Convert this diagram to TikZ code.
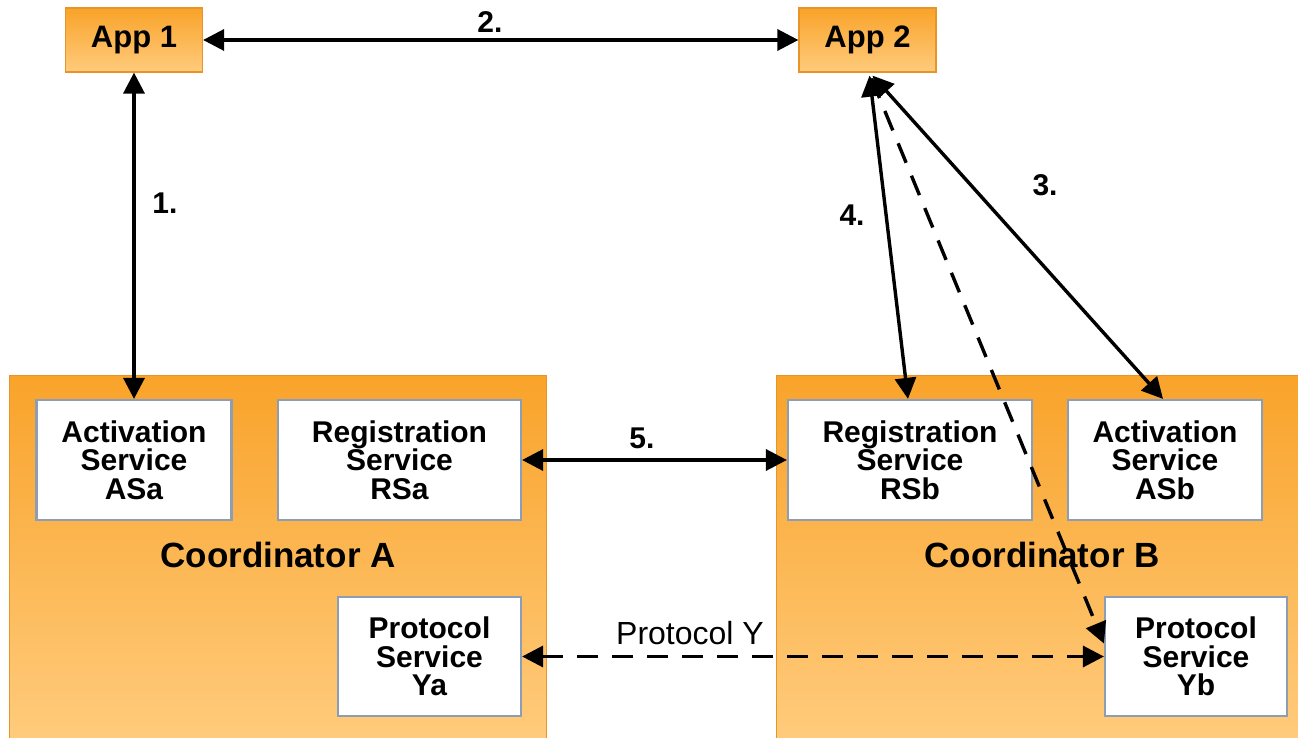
\documentclass[tikz,border=0pt]{standalone}
\usepackage{fontspec}
\setmainfont{Liberation Sans}
\usetikzlibrary{arrows.meta}

\definecolor{orTop}{RGB}{249,163,42}
\definecolor{orBot}{RGB}{255,203,124}
\definecolor{orEdge}{RGB}{232,148,40}
\definecolor{svcEdge}{RGB}{140,158,182}

\begin{document}
\begin{tikzpicture}[x=1pt,y=-1pt,
  coordbox/.style={rectangle, top color=orTop, bottom color=orBot, draw=orEdge, line width=1.2pt, inner sep=0pt, anchor=north west},
  appbox/.style={rectangle, top color=orTop, bottom color=orBot, draw=orEdge, line width=1.2pt, inner sep=0pt, minimum width=137pt, minimum height=64pt, font=\fontsize{31}{31}\selectfont\bfseries},
  svc/.style={rectangle, fill=white, draw=svcEdge, line width=2.2pt, inner sep=0pt, minimum height=120pt, align=center, font=\fontsize{30}{28.5}\selectfont\bfseries},
  numlbl/.style={font=\fontsize{30}{30}\selectfont\bfseries, inner sep=0pt},
  ctitle/.style={font=\fontsize{35}{35}\selectfont\bfseries, inner sep=0pt},
  tip/.tip={Triangle[length=21pt,width=21pt]},
  conn/.style={line width=3.4pt, tip-tip},
  conn1/.style={line width=3.4pt, -tip},
  dashpat/.style={dash pattern=on 21pt off 14pt}
]
\useasboundingbox (0,0) rectangle (1298,738);
\fill[white] (0,0) rectangle (1298,738);

% coordinators
\node[coordbox, minimum width=537pt, minimum height=364pt] (coA) at (9,375) {};
\node[coordbox, minimum width=524pt, minimum height=364pt] (coB) at (776,375) {};
\node[ctitle] (coAt) at (278,555) {Coordinator A};
\node[ctitle] (coBt) at (1042,555) {Coordinator B};

% apps
\node[appbox] (app1) at (134,40) {App 1};
\node[appbox] (app2) at (867.5,40) {App 2};

% services
\node[svc, minimum width=195pt] (asa) at (134,460) {Activation\\Service\\ASa};
\node[svc, minimum width=243pt] (rsa) at (399.5,460) {Registration\\Service\\RSa};
\node[svc, minimum width=183pt, minimum height=119pt] (ya) at (429.5,656.5) {Protocol\\Service\\Ya};
\node[svc, minimum width=244pt] (rsb) at (910,460) {Registration\\Service\\RSb};
\node[svc, minimum width=194pt] (asb) at (1165,460) {Activation\\Service\\ASb};
\node[svc, minimum width=182pt, minimum height=119pt] (yb) at (1196,656.5) {Protocol\\Service\\Yb};

% connectors
\draw[conn] (app1.east) -- (app2.west);
\draw[conn] (app1.south) -- (asa.north);
\draw[conn] ([xshift=2pt,yshift=-3pt]app2.south) -- ([xshift=-2pt]rsb.north);
\draw[conn] ([xshift=5pt,yshift=-3pt]app2.south) -- ([xshift=-2pt]asb.north);
\draw[conn1, dashpat] ([xshift=4pt,yshift=-6pt]app2.south) -- ([yshift=13pt]yb.west);
\draw[conn] (rsa.east) -- (rsb.west);
\draw[conn, dashpat] (ya.east) -- (yb.west);

% labels
\node[numlbl] (l2) at (490,22) {2.};
\node[numlbl] (l1) at (165,203) {1.};
\node[numlbl] (l4) at (852,215) {4.};
\node[numlbl] (l3) at (1045,185) {3.};
\node[numlbl] (l5) at (642,438) {5.};
\node[font=\fontsize{32}{32}\selectfont, inner sep=0pt] (lpy) at (690,633) {Protocol Y};
\end{tikzpicture}
\end{document}
